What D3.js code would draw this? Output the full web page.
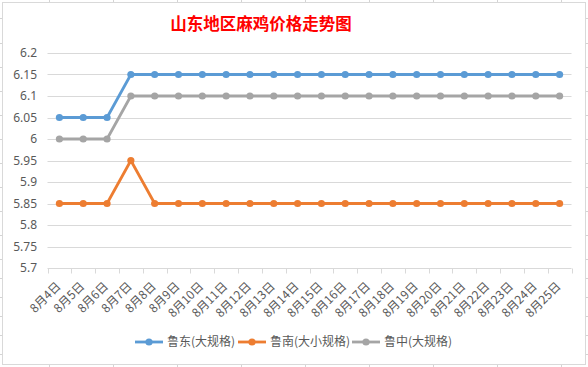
<!DOCTYPE html>
<html>
<head>
<meta charset="utf-8">
<script src="https://cdn.jsdelivr.net/npm/d3@7"></script>
<style>
  body { margin: 0; background: #fff; }
  svg { display: block; font-family: "Noto Sans CJK SC", "Noto Sans", sans-serif; }
</style>
</head>
<body>
<script>
// data
var categories = ["8月4日", "8月5日", "8月6日", "8月7日", "8月8日", "8月9日", "8月10日", "8月11日",
  "8月12日", "8月13日", "8月14日", "8月15日", "8月16日", "8月17日", "8月18日", "8月19日",
  "8月20日", "8月21日", "8月22日", "8月23日", "8月24日", "8月25日"];
var ludong = [6.05, 6.05, 6.05, 6.15, 6.15, 6.15, 6.15, 6.15, 6.15, 6.15, 6.15,
  6.15, 6.15, 6.15, 6.15, 6.15, 6.15, 6.15, 6.15, 6.15, 6.15, 6.15];
var lunan = [5.85, 5.85, 5.85, 5.95, 5.85, 5.85, 5.85, 5.85, 5.85, 5.85, 5.85,
  5.85, 5.85, 5.85, 5.85, 5.85, 5.85, 5.85, 5.85, 5.85, 5.85, 5.85];
var luzhong = [6.0, 6.0, 6.0, 6.1, 6.1, 6.1, 6.1, 6.1, 6.1, 6.1, 6.1,
  6.1, 6.1, 6.1, 6.1, 6.1, 6.1, 6.1, 6.1, 6.1, 6.1, 6.1];
var seriesNames = ["鲁东(大规格)", "鲁南(大小规格)", "鲁中(大规格)"];
var yTicks = [5.7, 5.75, 5.8, 5.85, 5.9, 5.95, 6, 6.05, 6.1, 6.15, 6.2];

document.addEventListener("DOMContentLoaded", function () {
  var width = 588, height = 367;
  var colors = ["#5b9bd5", "#ed7d31", "#a5a5a5"];
  var series = [ludong, lunan, luzhong];

  var svg = d3.select("body").append("svg")
    .attr("width", width)
    .attr("height", height);

  // spreadsheet grid peeking out around the chart box
  var cols = [49, 113, 177, 241, 305, 369, 433, 497, 561];
  var rows = [18, 43, 67, 91, 115, 139, 163, 187, 211, 235, 259, 278, 297, 316, 335, 354];
  cols.forEach(function (x) {
    svg.append("line").attr("x1", x + 0.5).attr("x2", x + 0.5).attr("y1", 0).attr("y2", 3)
      .attr("stroke", "#d4d4d4");
    svg.append("line").attr("x1", x + 0.5).attr("x2", x + 0.5).attr("y1", 364).attr("y2", 367)
      .attr("stroke", "#d4d4d4");
  });
  rows.forEach(function (y) {
    svg.append("line").attr("x1", 0).attr("x2", 3).attr("y1", y + 0.5).attr("y2", y + 0.5)
      .attr("stroke", "#d4d4d4");
    svg.append("line").attr("x1", 585).attr("x2", 588).attr("y1", y + 0.5).attr("y2", y + 0.5)
      .attr("stroke", "#d4d4d4");
  });

  // chart box
  svg.append("rect")
    .attr("x", 2.5).attr("y", 2.5)
    .attr("width", 583).attr("height", 362)
    .attr("fill", "#fff")
    .attr("stroke", "#d9d9d9");

  // title
  svg.append("text")
    .attr("x", 261).attr("y", 30)
    .attr("text-anchor", "middle")
    .attr("font-size", 16.5)
    .attr("font-weight", "bold")
    .attr("fill", "#ff0000")
    .text("山东地区麻鸡价格走势图");

  var x = d3.scaleBand().domain(categories).range([47.5, 571.5]);
  var y = d3.scaleLinear().domain([5.7, 6.2]).range([268, 53]);

  // horizontal gridlines
  svg.append("g").selectAll("line")
    .data(yTicks.slice(1))
    .join("line")
    .attr("x1", 47.5).attr("x2", 571.5)
    .attr("y1", function (d) { return Math.round(y(d)) + 0.5; })
    .attr("y2", function (d) { return Math.round(y(d)) + 0.5; })
    .attr("stroke", "#d9d9d9");

  // y labels
  svg.append("g").selectAll("text")
    .data(yTicks)
    .join("text")
    .attr("x", 37)
    .attr("y", function (d) { return y(d); })
    .attr("dy", "0.36em")
    .attr("text-anchor", "end")
    .attr("font-size", 12)
    .attr("font-family", "'Noto Sans', sans-serif")
    .attr("fill", "#595959")
    .text(function (d) { return d; });

  // x axis
  var xAxis = svg.append("g")
    .attr("transform", "translate(0," + (Math.round(y(5.7)) + 0.5) + ")");
  xAxis.append("line")
    .attr("x1", 47.5).attr("x2", 571.5)
    .attr("stroke", "#d9d9d9");
  var bounds = categories.map(function (c) { return x(c); }).concat([x.range()[1]]);
  xAxis.selectAll("line.tick")
    .data(bounds)
    .join("line")
    .attr("class", "tick")
    .attr("x1", function (d) { return Math.round(d) + 0.5; })
    .attr("x2", function (d) { return Math.round(d) + 0.5; })
    .attr("y1", 0).attr("y2", 5)
    .attr("stroke", "#d9d9d9");

  svg.append("g").selectAll("text")
    .data(categories)
    .join("text")
    .attr("transform", function (d) {
      return "translate(" + (x(d) + x.bandwidth() / 2 + 2) + ",287) rotate(-45)";
    })
    .attr("text-anchor", "end")
    .attr("font-size", 12)
    .attr("fill", "#595959")
    .text(function (d) { return d; });

  // lines + markers
  var line = d3.line()
    .x(function (d, i) { return x(categories[i]) + x.bandwidth() / 2; })
    .y(function (d) { return y(d); });

  series.forEach(function (s, k) {
    svg.append("path")
      .datum(s)
      .attr("d", line)
      .attr("fill", "none")
      .attr("stroke", colors[k])
      .attr("stroke-width", 2.8)
      .attr("stroke-linejoin", "round");
    svg.append("g").selectAll("circle")
      .data(s)
      .join("circle")
      .attr("cx", function (d, i) { return x(categories[i]) + x.bandwidth() / 2; })
      .attr("cy", function (d) { return y(d); })
      .attr("r", 3.6)
      .attr("fill", colors[k]);
  });

  // legend
  var legendX = [135, 238, 352];
  var legend = svg.append("g").selectAll("g")
    .data(seriesNames)
    .join("g")
    .attr("transform", function (d, i) { return "translate(" + legendX[i] + ",342)"; });
  legend.append("line")
    .attr("x1", 0).attr("x2", 28)
    .attr("stroke", function (d, i) { return colors[i]; })
    .attr("stroke-width", 2.8);
  legend.append("circle")
    .attr("cx", 14).attr("r", 3.6)
    .attr("fill", function (d, i) { return colors[i]; });
  legend.append("text")
    .attr("x", 32)
    .attr("dy", "0.36em")
    .attr("font-size", 12)
    .attr("fill", "#595959")
    .text(function (d) { return d; });
});
</script>
</body>
</html>
